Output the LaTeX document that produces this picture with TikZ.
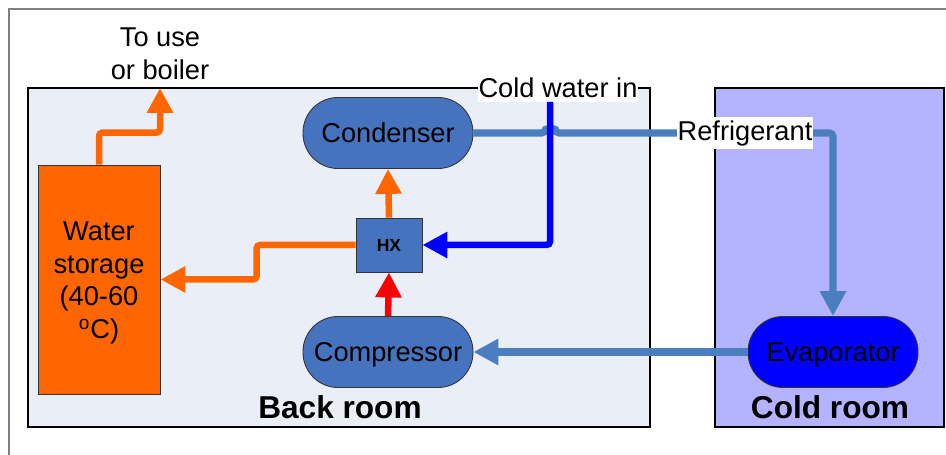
\documentclass[tikz,border=0pt]{standalone}
\usepackage{fontspec}
\setmainfont{Liberation Sans}
\usetikzlibrary{positioning,arrows.meta,calc}
\definecolor{pipeblue}{HTML}{4A7EBF}
\definecolor{unitblue}{HTML}{4673BE}
\definecolor{backfill}{HTML}{EAEFF7}
\definecolor{coldfill}{HTML}{B3B3FF}
\definecolor{hotorange}{HTML}{FF6600}

\begin{document}
\begin{tikzpicture}[
  x=0.02cm, y=-0.02cm,
  font=\fontsize{15.5}{18.7}\selectfont,
  room/.style={draw=black, line width=1.1pt, inner sep=0pt},
  roomlbl/.style={font=\fontsize{18}{20}\selectfont\bfseries},
  unit/.style={rounded corners=0.7cm, draw=black!80, line width=0.5pt, fill=unitblue,
               minimum width=3.4cm, minimum height=1.42cm, inner sep=0pt,
               text height=11pt, text depth=0pt},
  tank/.style={draw=black!80, line width=0.5pt, fill=hotorange, align=center,
               minimum width=2.44cm, minimum height=4.58cm, inner sep=0pt},
  hxbox/.style={draw=black!80, line width=0.5pt, fill=unitblue, minimum width=1.32cm,
                minimum height=1.08cm, inner sep=0pt, font=\fontsize{10}{12}\selectfont\bfseries},
  pipe/.style={line width=3.7pt, rounded corners=2pt, -{Triangle[length=0.5cm, width=0.5cm]}},
  hot/.style={pipe, draw=hotorange},
  gas/.style={pipe, draw=red},
  cold/.style={pipe, draw=blue},
  refr/.style={pipe, line width=4pt, draw=pipeblue},
  tag/.style={fill=white, inner xsep=0.5pt, inner ysep=2pt},
]
\useasboundingbox (0,0) rectangle (946,455);

% ---- outer frame ----
\draw[black!50, line width=0.6pt] (9,455) -- (9,9) -- (946,9);

% ---- rooms ----
\node[room, fill=backfill, minimum width=12.44cm, minimum height=6.78cm] (back) at (339,257.5) {};
\node[room, fill=coldfill, minimum width=4.58cm, minimum height=6.78cm] (coldr) at (829.5,257.5) {};
\node[roomlbl] (backlbl) at (340,407) {Back room};
\node[roomlbl] (coldlbl) at (830,407) {Cold room};

% ---- units ----
\node[tank, label={[align=center, yshift=-2pt]center:Water\\storage\\(40-60\\\textsuperscript{o}C)}] (tank) at (99,279.5) {};
\node[unit] (cond) at (388,133) {Condenser};
\node[hxbox] (hx) at (389,245) {HX};
\node[unit] (comp) at (388,352) {Compressor};
\node[unit, fill=blue] (evap) at (833,352) {Evaporator};

% ---- outlet ----
\node[align=center, inner sep=0pt] (touse) at (160,54) {To use\\or boiler};
\coordinate (outlet) at (160,88);

% ---- water and heat ----
\draw[hot] (tank.north) -- ++(0,-32) -| (outlet);
\draw[hot] (hx.north) -- (cond.south);
\draw[hot] (hx.west) -- ++(-99,0) |- (tank.east);
\draw[gas] (comp.north) -- (hx.south);

% ---- refrigerant loop ----
\draw[refr] (cond.east) -- ($(cond.east)+(72,0)$) arc[start angle=180, end angle=360, radius=5] -| (evap.north);
\draw[refr] (evap.west) -- (comp.east);
\node[tag] (reflbl) at (745,133) {Refrigerant};

% ---- cold water ----
\node[tag] (coldin) at (558,88) {Cold water in};
\draw[cold] ($(coldin.south)+(-8,0)$) |- (hx.east);
\end{tikzpicture}
\end{document}
